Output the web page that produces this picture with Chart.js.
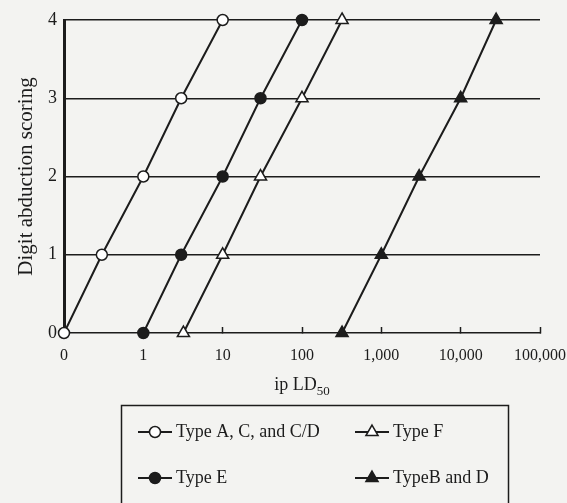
<!DOCTYPE html>
<html>
<head>
<meta charset="utf-8">
<script src="https://cdn.jsdelivr.net/npm/chart.js@4/dist/chart.umd.min.js"></script>
<style>
  html, body { margin: 0; padding: 0; background: #f3f3f1; }
  #wrap { width: 567px; height: 503px; }
</style>
</head>
<body>
<div id="wrap"><canvas id="myChart" width="567" height="503"></canvas></div>
<script>
// ip LD50 values (the "0" tick sits at 0.1 on the log axis)
var xTicks = [0.1, 1, 10, 100, 1000, 10000, 100000];
var xLabels = ["0", "1", "10", "100", "1,000", "10,000", "100,000"];
var scores = [0, 1, 2, 3, 4];

var labels = ["Type A, C, and C/D", "Type E", "Type F", "TypeB and D"];
var doseAC = [0.1, 0.3, 1, 3, 10];
var doseE = [1, 3, 10, 30, 100];
var doseF = [3.2, 10, 30, 100, 320];
var doseBD = [320, 1000, 3000, 10000, 28000];

var ink = "#1c1c1c";
var font = "'Liberation Serif', 'DejaVu Serif', serif";

function pts(doses) {
  return doses.map(function (d, i) { return { x: d, y: scores[i] }; });
}

function series(label, doses, style, fill, r) {
  return {
    label: label,
    data: pts(doses),
    borderColor: ink,
    borderWidth: 2,
    pointStyle: style,
    pointRadius: r,
    pointHoverRadius: r,
    pointBackgroundColor: fill,
    pointBorderColor: ink,
    pointBorderWidth: 1.5,
    clip: false,
    tension: 0
  };
}

var datasets = [
  series(labels[0], doseAC, "circle", "#ffffff", 5.5),
  series(labels[1], doseE, "circle", ink, 5.5),
  series(labels[2], doseF, "triangle", "#ffffff", 7),
  series(labels[3], doseBD, "triangle", ink, 7)
];

// paper background
var bgPlugin = {
  id: "bg",
  beforeDraw: function (chart) {
    var c = chart.ctx;
    c.save();
    c.fillStyle = "#f3f3f1";
    c.fillRect(0, 0, chart.width, chart.height);
    c.restore();
  }
};

// x title with subscript and the boxed 2x2 legend
var extrasPlugin = {
  id: "extras",
  afterDraw: function (chart) {
    var c = chart.ctx;
    var area = chart.chartArea;
    c.save();
    c.fillStyle = ink;
    c.textBaseline = "alphabetic";

    // "ip LD50"
    var main = "ip LD";
    c.font = "18px " + font;
    var w1 = c.measureText(main).width;
    c.font = "13px " + font;
    var w2 = c.measureText("50").width;
    var cx = (area.left + area.right) / 2;
    var sx = cx - (w1 + w2) / 2;
    c.font = "18px " + font;
    c.fillText(main, sx, 390);
    c.font = "13px " + font;
    c.fillText("50", sx + w1, 395);

    // legend box
    c.strokeStyle = ink;
    c.lineWidth = 1.5;
    c.strokeRect(121.5, 405.5, 387, 110);

    var pos = [[138, 432], [138, 478], [355, 432], [355, 478]];
    chart.data.datasets.forEach(function (ds, i) {
      var x = pos[i][0], y = pos[i][1];
      c.strokeStyle = ink;
      c.lineWidth = 2;
      c.beginPath();
      c.moveTo(x, y);
      c.lineTo(x + 34, y);
      c.stroke();
      c.fillStyle = ds.pointBackgroundColor;
      c.strokeStyle = ink;
      c.lineWidth = ds.pointBorderWidth;
      Chart.helpers.drawPoint(c, {
        pointStyle: ds.pointStyle,
        radius: ds.pointRadius,
        rotation: 0,
        borderWidth: ds.pointBorderWidth
      }, x + 17, y);
      c.fillStyle = ink;
      c.font = "18px " + font;
      c.textBaseline = "middle";
      c.fillText(ds.label, x + 38, y);
    });
    c.restore();
  }
};

var config = {
  type: "line",
  data: { datasets: datasets },
  options: {
    responsive: false,
    animation: false,
    layout: { padding: { top: 20, right: 27, left: 0, bottom: 0 } },
    plugins: {
      legend: { display: false },
      tooltip: { enabled: false }
    },
    scales: {
      x: {
        type: "logarithmic",
        min: 0.1,
        max: 100000,
        afterBuildTicks: function (scale) {
          scale.ticks = xTicks.map(function (v) { return { value: v }; });
        },
        afterFit: function (scale) {
          scale.height = 170;
          scale.paddingLeft = 0;
          scale.paddingRight = 0;
        },
        grid: {
          drawOnChartArea: false,
          drawTicks: true,
          tickLength: -6,
          tickWidth: 1.5,
          tickColor: ink
        },
        border: { display: true, color: ink, width: 1.5 },
        ticks: {
          autoSkip: false,
          maxRotation: 0,
          padding: 19,
          color: ink,
          font: { family: font, size: 16 },
          callback: function (value, index) { return xLabels[index]; }
        }
      },
      y: {
        type: "linear",
        min: 0,
        max: 4,
        afterFit: function (scale) { scale.width = 64; },
        grid: {
          drawTicks: false,
          color: ink,
          lineWidth: function (ctx) { return ctx.tick && ctx.tick.value === 0 ? 0 : 1.5; }
        },
        border: { display: true, color: ink, width: 3 },
        ticks: {
          stepSize: 1,
          padding: 7,
          color: ink,
          font: { family: font, size: 18 }
        },
        title: {
          display: true,
          text: "Digit abduction scoring",
          color: ink,
          font: { family: font, size: 21 },
          padding: { top: 14, bottom: 0 }
        }
      }
    }
  },
  plugins: [bgPlugin, extrasPlugin]
};

var ctx = document.getElementById("myChart");
window.digitChart = new Chart(ctx, config);
</script>
</body>
</html>
